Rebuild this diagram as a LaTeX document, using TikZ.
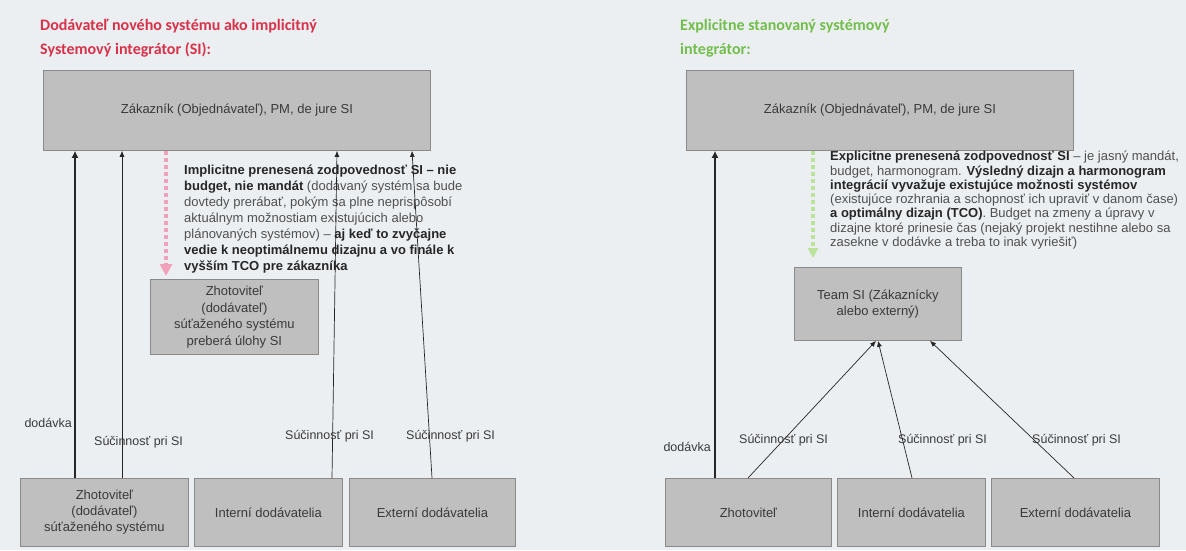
\documentclass[tikz,border=0pt]{standalone}
\usepackage{fontspec}
\setmainfont{Liberation Sans}
\newfontfamily\titlefont{Carlito}
\usetikzlibrary{arrows.meta,calc}
\definecolor{bg}{HTML}{ECEFF2}
\definecolor{boxfill}{HTML}{BFBFBF}
\definecolor{boxline}{HTML}{8A8A8A}
\definecolor{txt}{HTML}{3A3A3A}
\definecolor{softtxt}{HTML}{505050}
\definecolor{titlered}{HTML}{D8324A}
\definecolor{titlegreen}{HTML}{72BE4B}
\definecolor{pinkarrow}{HTML}{F2A0BC}
\definecolor{greenarrow}{HTML}{BCE39A}
\newcommand{\bt}[1]{\textbf{\color{black!85}#1}}
\begin{document}
\begin{tikzpicture}[x=1pt,y=-1pt,
  box/.style={draw=boxline, line width=0.8pt, fill=boxfill, text=txt, align=center, inner sep=2pt, anchor=north west, font=\fontsize{13}{16}\selectfont},
  lbl/.style={text=txt, font=\fontsize{12.5}{15}\selectfont, inner sep=0pt},
  note/.style={text=softtxt, align=left, anchor=north west, inner sep=0pt},
  ttl/.style={align=left, anchor=north west, inner sep=0pt, font=\titlefont\bfseries\fontsize{16}{24}\selectfont},
  thinarr/.style={draw=black!85, line width=0.7pt, -{Latex[length=6pt,width=5pt]}},
  thickarr/.style={draw=black!85, line width=2.6pt, -{Latex[length=7pt,width=7pt]}},
  pinkdash/.style={draw=pinkarrow, line width=4pt, dash pattern=on 4pt off 3pt, -{Triangle[length=12pt,width=12pt,fill=pinkarrow]}},
  greendash/.style={draw=greenarrow, line width=4pt, dash pattern=on 4pt off 3pt, -{Triangle[length=10pt,width=10pt,fill=greenarrow]}},
]
\fill[bg] (0,0) rectangle (1186,550);
\useasboundingbox (0,0) rectangle (1186,550);

% ---------- left ----------
\node[ttl, text=titlered] (tL) at (40,19) {Dodávateľ nového systému ako implicitný\\Systemový integrátor (SI):};
\node[box, minimum width=387pt, minimum height=80pt] (cL) at (43,70) {Zákazník (Objednávateľ), PM, de jure SI};
\node[note, font=\fontsize{13}{16}\selectfont] (nL) at (184,165) {\bt{Implicitne prenesená zodpovednosť SI – nie}\\\bt{budget, nie mandát} (dodávaný systém sa bude\\dovtedy prerábať, pokým sa plne neprispôsobí\\aktuálnym možnostiam existujúcich alebo\\plánovaných systémov) – \bt{aj keď to zvyčajne}\\\bt{vedie k neoptimálnemu dizajnu a vo finále k}\\\bt{vyšším TCO pre zákazníka}};
\node[box, minimum width=168pt, minimum height=75pt, font=\fontsize{13}{16.5}\selectfont] (sL) at (150,279) {Zhotoviteľ\\(dodávateľ)\\súťaženého systému\\preberá úlohy SI};
\node[box, minimum width=168pt, minimum height=68pt] (b1) at (20,478) {Zhotoviteľ\\(dodávateľ)\\súťaženého systému};
\node[box, minimum width=148pt, minimum height=68pt] (b2) at (194,478) {Interní dodávatelia};
\node[box, minimum width=166pt, minimum height=68pt] (b3) at (349,478) {Externí dodávatelia};

\draw[thickarr] ([xshift=55pt]b1.north west) -- ([xshift=32pt]cL.south west);
\draw[thinarr] ([xshift=102pt]b1.north west) -- ([xshift=79pt]cL.south west);
\draw[thinarr] ([xshift=138pt]b2.north west) -- ([xshift=294pt]cL.south west);
\draw[thinarr] ([xshift=83pt]b3.north west) -- ([xshift=369pt]cL.south west);
\draw[pinkdash] ([xshift=123pt]cL.south west) -- ([xshift=16pt,yshift=3pt]sL.north west);

\node[lbl, anchor=east] (dL) at (72,423) {dodávka};
\node[lbl, anchor=west] (sL1) at (94,442) {Súčinnosť pri SI};
\node[lbl, anchor=west] (sL2) at (285,436) {Súčinnosť pri SI};
\node[lbl, anchor=west] (sL3) at (406,436) {Súčinnosť pri SI};

% ---------- right ----------
\node[ttl, text=titlegreen] (tR) at (680,19) {Explicitne stanovaný systémový\\integrátor:};
\node[box, minimum width=387pt, minimum height=80pt] (cR) at (686,70) {Zákazník (Objednávateľ), PM, de jure SI};
\node[note, font=\fontsize{13}{14.3}\selectfont] (nR) at (830,151) {\bt{Explicitne prenesená zodpovednosť SI} – je jasný mandát,\\budget, harmonogram. \bt{Výsledný dizajn a harmonogram}\\\bt{integrácií vyvažuje existujúce možnosti systémov}\\(existujúce rozhrania a schopnosť ich upraviť v danom čase)\\\bt{a optimálny dizajn (TCO)}. Budget na zmeny a úpravy v\\dizajne ktoré prinesie čas (nejaký projekt nestihne alebo sa\\zasekne v dodávke a treba to inak vyriešiť)};
\node[box, minimum width=167pt, minimum height=73pt] (tmR) at (794,267) {Team SI (Zákaznícky\\alebo externý)};
\node[box, minimum width=166pt, minimum height=68pt] (r1) at (665,478) {Zhotoviteľ};
\node[box, minimum width=148pt, minimum height=68pt] (r2) at (837,478) {Interní dodávatelia};
\node[box, minimum width=168pt, minimum height=68pt] (r3) at (991,478) {Externí dodávatelia};

\draw[thickarr] ([xshift=50pt]r1.north west) -- ([xshift=29pt]cR.south west);
\draw[thinarr] ([xshift=83pt]r1.north west) -- ([xshift=82pt]tmR.south west);
\draw[thinarr] ([xshift=75pt]r2.north west) -- ([xshift=84pt]tmR.south west);
\draw[thinarr] ([xshift=83pt]r3.north west) -- ([xshift=136pt]tmR.south west);
\draw[greendash] ([xshift=127pt]cR.south west) -- ([xshift=19pt,yshift=9pt]tmR.north west);

\node[lbl, anchor=east] (dR) at (711,447) {dodávka};
\node[lbl, anchor=west] (sR1) at (739,440) {Súčinnosť pri SI};
\node[lbl, anchor=west] (sR2) at (898,440) {Súčinnosť pri SI};
\node[lbl, anchor=west] (sR3) at (1032,440) {Súčinnosť pri SI};
\end{tikzpicture}
\end{document}
